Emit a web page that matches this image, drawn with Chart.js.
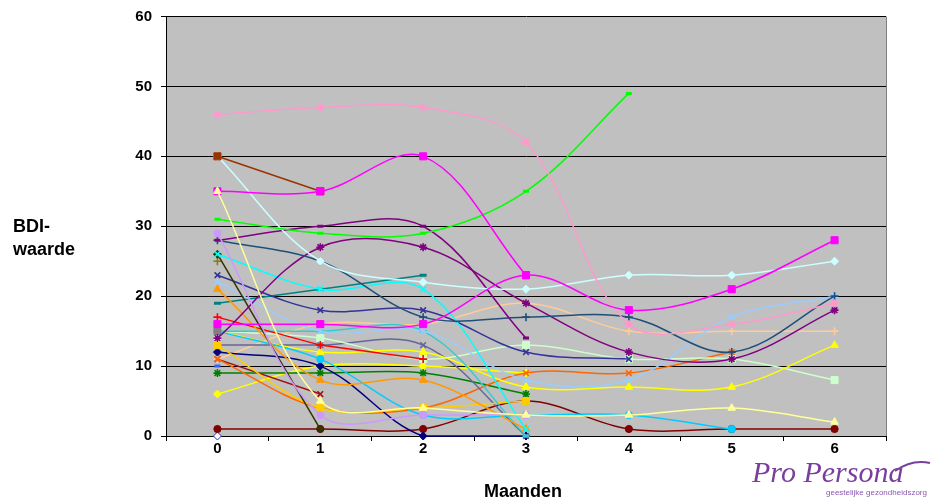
<!DOCTYPE html>
<html>
<head>
<meta charset="utf-8">
<script src="https://cdn.jsdelivr.net/npm/chart.js@4.4.1/dist/chart.umd.min.js"></script>
<style>
  html, body { margin: 0; padding: 0; background: #ffffff; overflow: hidden; }
  #wrap { width: 934px; height: 499px; position: relative; }
</style>
</head>
<body>
<div id="wrap"><canvas id="c" width="934" height="499"></canvas></div>
<script>
// Months since start of treatment
const months = ['0', '1', '2', '3', '4', '5', '6'];
const yTickValues = [0, 10, 20, 30, 40, 50, 60];

// BDI scores per client (null = no measurement)
const pinkX        = [46, 47, 47, 42, 16, 16, 19];
const greenLine    = [31, 29, 29, 35, 49, null, null];
const magentaHigh  = [35, 35, 40, 23, null, null, null];
const magentaLow   = [16, 16, 16, 23, 18, 21, 28];
const brownSq      = [40, 35, null, null, null, null, null];
const lightCyanDia = [40, 25, 22, 21, 23, 23, 25];
const lavenderDot  = [29, 3, 3, 3, null, null, null];
const purpleDash   = [28, 30, 30, 14, null, null, null];
const navyPlus     = [28, 25, 17, 17, 17, 12, 20];
const purpleStar   = [14, 27, 27, 19, 12, 11, 18];
const cyanX        = [26, 21, 21, 1, null, null, null];
const oliveDia     = [26, 1, null, null, null, null, null];
const olivePlus    = [25, null, null, null, null, null, null];
const slateX       = [23, 18, 18, 12, 11, null, null];
const lightBlueX   = [22, 15, 15, 8, 8, 17, 20];
const orangeTri    = [21, 8, 8, 1, null, null, null];
const tealDash     = [19, 21, 23, null, null, null, null];
const redPlus      = [17, 13, 11, null, null, null, null];
const graySq       = [15, null, null, null, null, null, null];
const turquoiseDash= [15, 15, 15, 0, null, null, null];
const skyBlueDot   = [15, 11, 3, 3, 3, 1, null];
const yellowTri    = [15, 12, 12, 7, 7, 7, 13];
const lightGreenSq = [15, 14, 11, 13, 11, 11, 8];
const whiteDot     = [14, null, null, null, null, null, null];
const goldSq       = [13, 4, 4, 5, null, null, null];
const grayBlueX    = [13, 13, 13, 0, null, null, null];
const navyDia      = [12, 10, 0, 0, null, null, null];
const orangeX      = [11, 4, 4, 9, 9, 12, null];
const darkRedX     = [11, 6, null, null, null, null, null];
const peachPlus    = [11, 16, 16, 19, 15, 15, 15];
const blueDash     = [10, null, null, null, null, null, null];
const greenStar    = [9, 9, 9, 6, null, null, null];
const yellowDia    = [6, 10, 10, 9, null, null, null];
const lightYellowTri = [35, 5, 4, 3, 3, 4, 2];
const maroonDot    = [1, 1, 1, 5, 1, 1, 1];
const openDia      = [0, null, null, null, null, null, null];

const markerRadius = { rect: 5, rectRot: 4, circle: 3.6, triangle: 4.4, cross: 4, crossRot: 4, star: 4, line: 4 };

function series(label, data, color, style, extra) {
  const stroked = ['cross', 'crossRot', 'star', 'line'].includes(style);
  return Object.assign({
    label: label,
    data: data,
    borderColor: color,
    backgroundColor: color,
    borderWidth: 1.5,
    tension: 0.35,
    pointStyle: style,
    pointRadius: markerRadius[style],
    pointBackgroundColor: color,
    pointBorderColor: color,
    pointBorderWidth: stroked ? (style === 'line' ? 3 : 1.6) : 1,
    spanGaps: false,
    clip: 8
  }, extra || {});
}

const datasets = [
  series('A', lightYellowTri, '#FFFF99', 'triangle'),
  series('B', magentaHigh, '#FF00FF', 'rect'),
  series('C', brownSq, '#993300', 'rect', { tension: 0 }),
  series('D', magentaLow, '#FF00FF', 'rect'),
  series('E', pinkX, '#FF99CC', 'star'),
  series('F', greenLine, '#00FF00', 'line', { pointRadius: 3 }),
  series('G', lightCyanDia, '#CCFFFF', 'rectRot'),
  series('H', lavenderDot, '#CC99FF', 'circle'),
  series('I', purpleDash, '#800080', 'line', { pointRadius: 3 }),
  series('J', navyPlus, '#1F4E79', 'cross'),
  series('K', purpleStar, '#800080', 'star'),
  series('L', cyanX, '#00FFFF', 'crossRot'),
  series('M', oliveDia, '#333300', 'rectRot', { tension: 0 }),
  series('N', olivePlus, '#808000', 'cross'),
  series('O', slateX, '#333399', 'crossRot'),
  series('P', lightBlueX, '#99CCFF', 'crossRot'),
  series('Q', orangeTri, '#FF9900', 'triangle'),
  series('R', tealDash, '#008080', 'line', { pointRadius: 3.5 }),
  series('S', redPlus, '#FF0000', 'cross', { tension: 0 }),
  series('T', graySq, '#808080', 'rect'),
  series('U', turquoiseDash, '#33CCCC', 'line', { pointRadius: 3.5 }),
  series('V', skyBlueDot, '#00CCFF', 'circle'),
  series('W', yellowTri, '#FFFF00', 'triangle'),
  series('X', lightGreenSq, '#CCFFCC', 'rect'),
  series('Y', whiteDot, '#FFFFFF', 'circle'),
  series('Z', goldSq, '#FFCC00', 'rect'),
  series('AA', grayBlueX, '#666699', 'crossRot'),
  series('AB', navyDia, '#000080', 'rectRot'),
  series('AC', orangeX, '#FF6600', 'crossRot'),
  series('AD', darkRedX, '#A01010', 'crossRot', { tension: 0 }),
  series('AE', peachPlus, '#FFCC99', 'cross'),
  series('AF', blueDash, '#3366FF', 'line', { pointRadius: 3 }),
  series('AG', greenStar, '#008000', 'star'),
  series('AH', yellowDia, '#FFFF00', 'rectRot'),
  series('AI', maroonDot, '#800000', 'circle'),
  series('AJ', openDia, '#3333CC', 'rectRot', { pointBackgroundColor: '#FFFFFF' })
];

// Grey plot area and outer white canvas
const plotBackground = {
  id: 'plotBackground',
  beforeDraw(chart) {
    const { ctx, chartArea: a } = chart;
    ctx.save();
    ctx.fillStyle = '#FFFFFF';
    ctx.fillRect(0, 0, chart.width, chart.height);
    ctx.fillStyle = '#C0C0C0';
    ctx.fillRect(a.left, a.top, a.right - a.left, a.bottom - a.top);
    ctx.strokeStyle = '#808080';
    ctx.lineWidth = 1;
    ctx.beginPath();
    ctx.moveTo(a.right + 0.5, a.top);
    ctx.lineTo(a.right + 0.5, a.bottom);
    ctx.stroke();
    ctx.restore();
  }
};

// Axis titles and the Pro Persona logo
const annotations = {
  id: 'annotations',
  afterDraw(chart) {
    const { ctx, chartArea: a } = chart;
    ctx.save();
    ctx.fillStyle = '#000000';
    ctx.font = 'bold 18px "Liberation Sans", Arial, sans-serif';
    ctx.textAlign = 'left';
    ctx.textBaseline = 'alphabetic';
    ctx.fillText('BDI-', 13, 232);
    ctx.fillText('waarde', 13, 255);
    ctx.textAlign = 'center';
    ctx.fillText('Maanden', (a.left + a.right) / 2 - 3, 497);

    // logo
    ctx.fillStyle = '#7A3E9D';
    ctx.strokeStyle = '#7A3E9D';
    ctx.textAlign = 'left';
    ctx.font = 'italic 30px "Liberation Serif", "DejaVu Serif", serif';
    ctx.fillText('Pro Persona', 752, 482);
    ctx.lineWidth = 2;
    ctx.beginPath();
    ctx.moveTo(895, 471);
    ctx.quadraticCurveTo(912, 459, 930, 463);
    ctx.stroke();
    ctx.font = '8px "Liberation Sans", Arial, sans-serif';
    ctx.fillStyle = '#8A5AAE';
    ctx.fillText('geestelijke gezondheidszorg', 826, 495);
    ctx.restore();
  }
};

Chart.defaults.font.family = '"Liberation Sans", Arial, sans-serif';

new Chart(document.getElementById('c'), {
  type: 'line',
  data: { labels: months, datasets: datasets },
  options: {
    responsive: false,
    animation: false,
    events: [],
    layout: { padding: { top: 15, right: 48, left: 0, bottom: 0 } },
    plugins: { legend: { display: false }, tooltip: { enabled: false } },
    scales: {
      x: {
        offset: true,
        grid: { display: true, offset: true, drawOnChartArea: false, drawTicks: true, tickLength: 5, color: '#000000', lineWidth: 1 },
        border: { display: true, color: '#000000', width: 1 },
        ticks: { color: '#000000', font: { size: 15, weight: 'bold', lineHeight: 1 }, padding: 0, maxRotation: 0 },
        afterFit(scale) { scale.height = 63; }
      },
      y: {
        min: 0,
        max: 60,
        afterBuildTicks(scale) { scale.ticks = yTickValues.map(v => ({ value: v })); },
        grid: { color: '#000000', lineWidth: 1, drawTicks: true, tickLength: 5 },
        border: { display: true, color: '#000000', width: 1 },
        ticks: { color: '#000000', font: { size: 15, weight: 'bold', lineHeight: 1 }, padding: 9 },
        afterFit(scale) { scale.width = 166; }
      }
    }
  },
  plugins: [plotBackground, annotations]
});
</script>
</body>
</html>
